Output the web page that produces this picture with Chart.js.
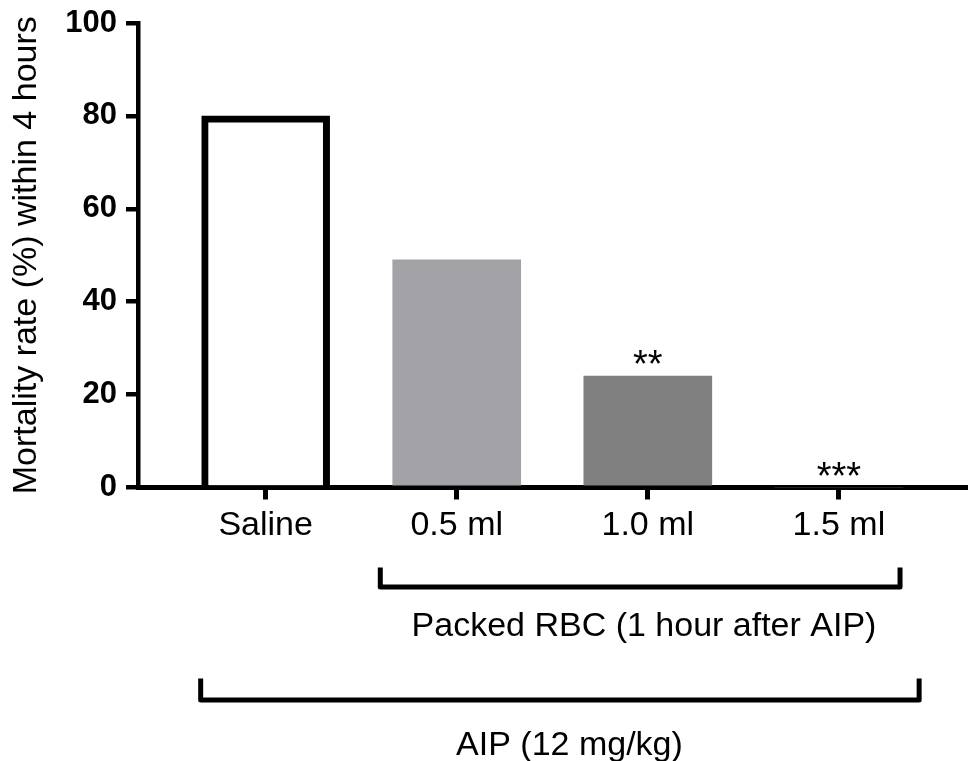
<!DOCTYPE html>
<html>
<head>
<meta charset="utf-8">
<script src="https://cdn.jsdelivr.net/npm/chart.js@4.4.1/dist/chart.umd.min.js"></script>
<style>
  html, body { margin: 0; padding: 0; background: #fff; }
</style>
</head>
<body>
<canvas id="chart" width="969" height="761"></canvas>
<script>
const categories = ['Saline', '0.5 ml', '1.0 ml', '1.5 ml'];
const positions = [1, 2, 3, 4];
const mortality = [80, 49, 24, 0];
const significance = ['', '', '**', '***'];
const yTicks = [0, 20, 40, 60, 80, 100];

// groups drawn as brackets under the axis (x in axis units)
const groupLabels = ['Packed RBC (1 hour after AIP)', 'AIP (12 mg/kg)'];
const groupFrom = [1.6, 0.66];
const groupTo = [4.32, 4.42];
const groupLabelAt = [2.98, 2.59];

const FONT = '"Liberation Sans", Arial, sans-serif';

const annotate = {
    id: 'annotate',
    afterDraw(chart) {
        const ctx = chart.ctx;
        const x = chart.scales.x;
        const y = chart.scales.y;
        ctx.save();
        ctx.fillStyle = '#000';
        ctx.textAlign = 'center';
        ctx.textBaseline = 'alphabetic';

        // stars above bars
        ctx.font = '38px ' + FONT;
        significance.forEach((s, i) => {
            if (!s) return;
            ctx.fillText(s, x.getPixelForValue(positions[i]), y.getPixelForValue(mortality[i]) + 1);
        });

        // brackets: offsets below the zero line
        const base = y.getPixelForValue(0);
        const rows = [
            { cap: base + 80, line: base + 99.5, text: base + 148 },
            { cap: base + 191, line: base + 212.5, text: base + 267 }
        ];
        ctx.strokeStyle = '#000';
        ctx.lineWidth = 5;
        ctx.lineJoin = 'round';
        ctx.font = '34px ' + FONT;
        groupLabels.forEach((label, i) => {
            const x1 = x.getPixelForValue(groupFrom[i]);
            const x2 = x.getPixelForValue(groupTo[i]);
            const r = rows[i];
            ctx.beginPath();
            ctx.moveTo(x1, r.cap);
            ctx.lineTo(x1, r.line);
            ctx.lineTo(x2, r.line);
            ctx.lineTo(x2, r.cap);
            ctx.stroke();
            ctx.fillText(label, x.getPixelForValue(groupLabelAt[i]), r.text);
        });
        ctx.restore();
    }
};

new Chart(document.getElementById('chart'), {
    type: 'bar',
    data: {
        datasets: [{
            data: positions.map((p, i) => ({ x: p, y: mortality[i] })),
            backgroundColor: ['#ffffff', '#a3a2a7', '#808080', '#808080'],
            borderColor: '#000',
            borderWidth: [7, 0, 0, 0],
            borderSkipped: 'start',
            barThickness: 128
        }]
    },
    options: {
        responsive: false,
        animation: false,
        layout: { padding: { top: 0, right: 4, bottom: 0, left: 0 } },
        plugins: {
            legend: { display: false },
            tooltip: { enabled: false }
        },
        scales: {
            x: {
                type: 'linear',
                offset: false,
                min: 0.332,
                max: 4.66,
                afterBuildTicks: s => { s.ticks = positions.map(v => ({ value: v })); },
                afterFit: s => { s.height = 273.5; },
                grid: { offset: false, drawOnChartArea: false, drawTicks: true, tickLength: 12, lineWidth: 5, color: '#000' },
                border: { display: true, color: '#000', width: 5 },
                ticks: {
                    callback: v => categories[positions.indexOf(v)],
                    color: '#000',
                    font: { family: FONT, size: 34 },
                    padding: 6,
                    maxRotation: 0,
                    autoSkip: false
                }
            },
            y: {
                min: 0,
                max: 100,
                afterBuildTicks: s => { s.ticks = yTicks.map(v => ({ value: v })); },
                afterFit: s => { s.width = 138; s.paddingTop = 23; s.paddingBottom = 0; },
                grid: { drawOnChartArea: false, drawTicks: true, tickLength: 12, lineWidth: 4.5, color: '#000' },
                border: { display: true, color: '#000', width: 4.5 },
                ticks: {
                    color: '#000',
                    font: { family: FONT, size: 31, weight: 'bold' },
                    padding: 9
                },
                title: {
                    display: true,
                    text: 'Mortality rate (%) within 4 hours',
                    color: '#000',
                    font: { family: FONT, size: 34 },
                    padding: { top: 6, bottom: 0 }
                }
            }
        }
    },
    plugins: [annotate]
});
</script>
</body>
</html>
